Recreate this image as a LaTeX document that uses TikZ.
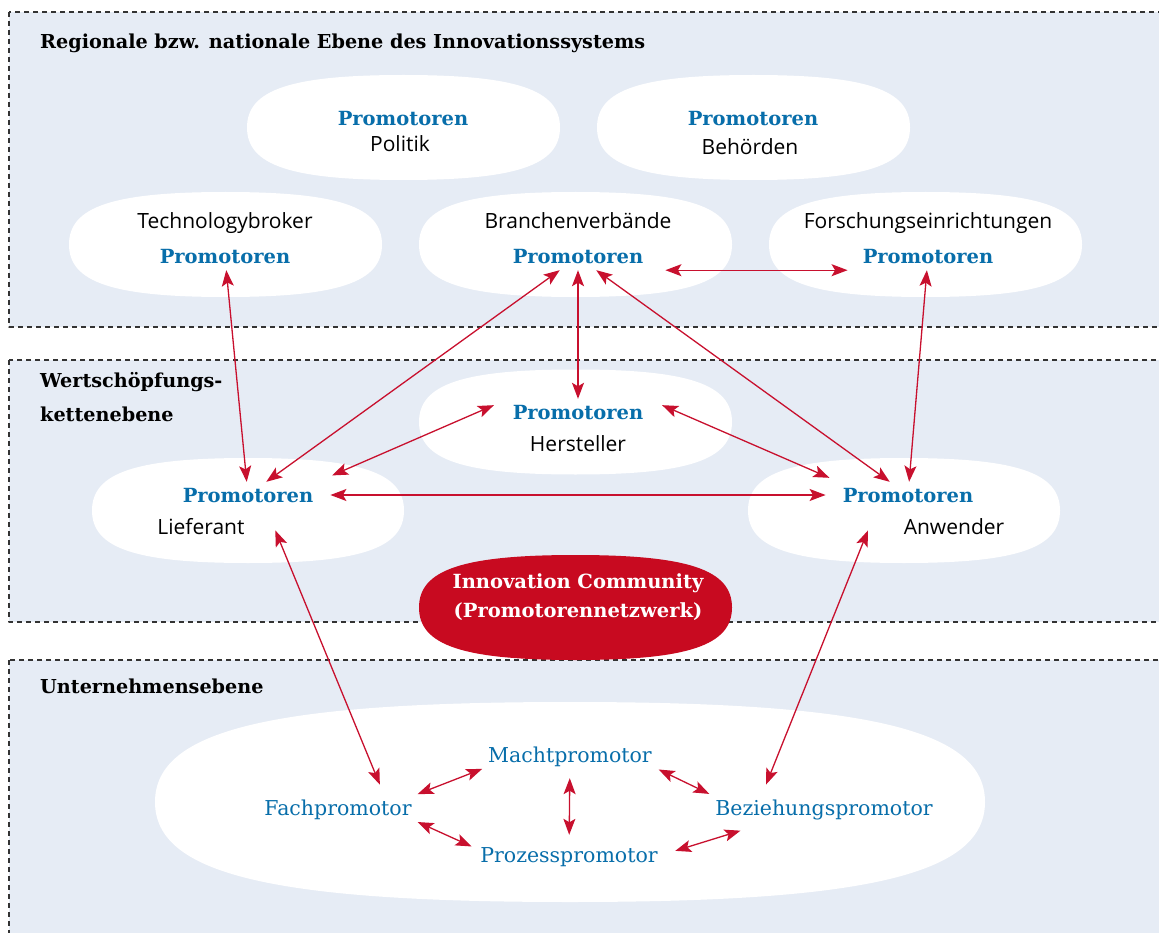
\documentclass[tikz,border=0pt]{standalone}
\usepackage{fontspec}
\setmainfont{Open Sans}
\newfontfamily\slab{DejaVu Serif}
\usetikzlibrary{arrows.meta}
\definecolor{bgblue}{RGB}{230,236,245}
\definecolor{probl}{RGB}{8,110,170}
\definecolor{arrred}{RGB}{200,16,46}
\definecolor{commred}{RGB}{200,10,32}
\newcommand{\promfont}{\slab\bfseries\fontsize{19.5}{22}\selectfont}
\newcommand{\headfont}{\slab\bfseries\fontsize{19.2}{22}\selectfont}
\newcommand{\rolefont}{\slab\fontsize{20.5}{24}\selectfont}
\newcommand{\lblfont}{\fontsize{21}{25}\selectfont}
% white cloud: colour, centre x, centre y, half width, half height
\newcommand{\wolke}[5][white]{%
  \fill[#1] ({#2-#4},#3) .. controls ({#2-#4},{#3-0.72*#5}) and ({#2-0.72*#4},{#3-#5}) .. (#2,{#3-#5})
    .. controls ({#2+0.72*#4},{#3-#5}) and ({#2+#4},{#3-0.72*#5}) .. ({#2+#4},#3)
    .. controls ({#2+#4},{#3+0.72*#5}) and ({#2+0.72*#4},{#3+#5}) .. (#2,{#3+#5})
    .. controls ({#2-0.72*#4},{#3+#5}) and ({#2-#4},{#3+0.72*#5}) .. ({#2-#4},#3) -- cycle;}

\begin{document}
\begin{tikzpicture}[x=1pt,y=-1pt,line join=round,
  panel/.style={fill=bgblue,draw=black!80,line width=1.1pt,dash pattern=on 5pt off 4pt},
  head/.style={font=\headfont,text=black,anchor=base west,inner sep=0pt,align=left},
  prom/.style={font=\promfont,text=probl,inner sep=4pt,text height=16pt,text depth=2pt},
  lbl/.style={font=\lblfont,text=black,inner sep=4pt,text height=16pt,text depth=2pt},
  role/.style={font=\rolefont,text=probl,inner sep=4pt,text height=16pt,text depth=2pt},
  conn/.style={draw=arrred,line width=1.3pt,{Stealth[length=16pt,width=12pt,inset=3.5pt]}-{Stealth[length=16pt,width=12pt,inset=3.5pt]}}]
\useasboundingbox (0,0) rectangle (1159,933);
% three levels
\draw[panel] (9,12) rectangle (1180,327);
\draw[panel] (9,360) rectangle (1180,622);
\draw[panel] (9,660) rectangle (1180,950);
\node[head] (hReg) at (40,49) {Regionale bzw. nationale Ebene des Innovationssystems};
\node[head] (hWert) at (40,421) {Wertschöpfungs-\\[12pt]kettenebene};
\node[head] (hUnt) at (40,693) {Unternehmensebene};
% clouds
\wolke{403.5}{127.5}{156.5}{52.5}
\wolke{753.5}{127.5}{156.5}{52.5}
\wolke{225.5}{244.5}{156.5}{52.5}
\wolke{575.5}{244.5}{156.5}{52.5}
\wolke{925.5}{244.5}{156.5}{52.5}
\wolke{575.5}{422}{156.5}{52.5}
\wolke{248}{510.5}{156}{52.5}
\wolke{904}{510.5}{156}{52.5}
\wolke[commred]{575.5}{607.5}{156.5}{52.5}
\wolke{570}{802}{415}{100}
% regional level
\node[prom] (poP) at (403,119) {Promotoren};
\node[lbl] (poL) at (400,145) {Politik};
\node[prom] (beP) at (753,119) {Promotoren};
\node[lbl] (beL) at (750,148) {Behörden};
\node[lbl] (tbL) at (225,222) {Technologybroker};
\node[prom] (tbP) at (225,257) {Promotoren};
\node[lbl] (bvL) at (578,222) {Branchenverbände};
\node[prom] (bvP) at (578,257) {Promotoren};
\node[lbl] (fsL) at (928,222) {Forschungseinrichtungen};
\node[prom] (fsP) at (928,257) {Promotoren};
% value chain level
\node[prom] (hsP) at (578,412) {Promotoren};
\node[lbl] (hsL) at (578,444) {Hersteller};
\node[prom] (liP) at (248,495) {Promotoren};
\node[lbl] (liL) at (201,527) {Lieferant};
\node[prom] (anP) at (908,495) {Promotoren};
\node[lbl] (anL) at (954,527) {Anwender};
\node[font=\promfont,text=white,align=center] (comm) at (578,597) {Innovation Community\\[7pt](Promotorennetzwerk)};
% company level
\node[role] (macht) at (570,755) {Machtpromotor};
\node[role] (fach) at (338,808) {Fachpromotor};
\node[role] (bez) at (824,808) {Beziehungspromotor};
\node[role] (proz) at (569,855) {Prozesspromotor};
% connections
\draw[conn] (tbP) -- (liP);
\draw[conn] (bvP) -- (liP);
\draw[conn] (bvP) -- (hsP);
\draw[conn,shorten <=18pt,shorten >=11pt] (bvP.south east) -- (fsP.south west);
\draw[conn] (bvP) -- (anP);
\draw[conn] (fsP) -- (anP);
\draw[conn,shorten <=16pt,shorten >=16pt] (hsP.north west) -- (liP.north east);
\draw[conn,shorten <=16pt,shorten >=10pt] (hsP.north east) -- (anP.north west);
\draw[conn,shorten <=13pt,shorten >=13pt] (liP.east) -- (anP.west);
\draw[conn,shorten <=24pt,shorten >=11pt] (liP.-36) -- (fach.16);
\draw[conn,shorten <=24pt,shorten >=11pt] (anP.-157) -- (bez.168);
\draw[conn,shorten <=2pt,shorten >=2pt] (fach.north east) -- (macht.south west);
\draw[conn,shorten <=2pt,shorten >=5pt] (fach.south east) -- (proz.176);
\draw[conn,shorten <=10pt,shorten >=7pt] (macht) -- (proz);
\draw[conn,shorten <=3pt,shorten >=2pt] (macht.south east) -- (bez.north west);
\draw[conn,shorten <=14pt,shorten >=32pt] (proz.east) -- (bez.-166);
\end{tikzpicture}
\end{document}
